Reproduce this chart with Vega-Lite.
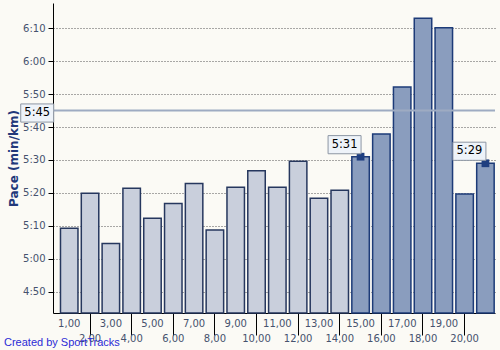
{
  "$schema": "https://vega.github.io/schema/vega-lite/v6.json",
  "width": 442,
  "height": 310,
  "autosize": {"type": "none"},
  "padding": {"left": 53, "top": 3, "right": 5, "bottom": 37},
  "background": "#fbfaf5",
  "config": {
    "view": {"stroke": null},
    "axis": {"labelFont": "DejaVu Sans", "labelFontSize": 10, "labelColor": "#46526e", "domainColor": "#000000", "tickColor": "#000000"}
  },
  "title": {
    "text": "Created by SportTracks",
    "orient": "bottom",
    "anchor": "start",
    "frame": "group",
    "dx": -49,
    "offset": -7,
    "font": "Liberation Sans",
    "fontSize": 11,
    "fontWeight": "normal",
    "color": "#2b2bd6"
  },
  "datasets": {
    "laps": [
      {"km": 1, "pace": 309.3, "group": "light", "label": null},
      {"km": 2, "pace": 319.9, "group": "light", "label": null},
      {"km": 3, "pace": 304.7, "group": "light", "label": null},
      {"km": 4, "pace": 321.4, "group": "light", "label": null},
      {"km": 5, "pace": 312.3, "group": "light", "label": null},
      {"km": 6, "pace": 316.8, "group": "light", "label": null},
      {"km": 7, "pace": 322.9, "group": "light", "label": null},
      {"km": 8, "pace": 308.8, "group": "light", "label": null},
      {"km": 9, "pace": 321.7, "group": "light", "label": null},
      {"km": 10, "pace": 326.7, "group": "light", "label": null},
      {"km": 11, "pace": 321.7, "group": "light", "label": null},
      {"km": 12, "pace": 329.6, "group": "light", "label": null},
      {"km": 13, "pace": 318.4, "group": "light", "label": null},
      {"km": 14, "pace": 320.8, "group": "light", "label": null},
      {"km": 15, "pace": 331, "group": "dark", "label": "5:31"},
      {"km": 16, "pace": 337.9, "group": "dark", "label": null},
      {"km": 17, "pace": 352.1, "group": "dark", "label": null},
      {"km": 18, "pace": 373, "group": "dark", "label": null},
      {"km": 19, "pace": 370.1, "group": "dark", "label": null},
      {"km": 20, "pace": 319.7, "group": "dark", "label": null},
      {"km": 21, "pace": 329, "group": "dark", "label": "5:29"}
    ],
    "avg": [{"pace": 345, "label": "5:45", "km": 1}]
  },
  "layer": [
    {
      "data": {"name": "laps"},
      "mark": {"type": "bar", "strokeWidth": 1.5},
      "encoding": {
        "x": {
          "field": "km",
          "type": "ordinal",
          "sort": "ascending",
          "scale": {"paddingInner": 0.16, "paddingOuter": 0.2, "align": 0.9},
          "axis": {
            "title": null,
            "labelAngle": 0,
            "labelOverlap": false,
            "labelFlush": false,
            "labelExpr": "datum.value == 21 ? '' : datum.value + ',00'",
            "ticks": true,
            "tickWidth": 1,
            "tickOpacity": 1,
            "tickSize": {"condition": {"test": "datum.value % 2 == 0", "value": 22}, "value": 0},
            "labelPadding": {"condition": {"test": "datum.value % 2 == 0", "value": -1.5}, "value": 5}
          }
        },
        "y": {
          "field": "pace",
          "type": "quantitative",
          "scale": {"domain": [283.6, 377.6], "zero": false, "nice": false},
          "axis": {
            "values": [290, 300, 310, 320, 330, 340, 350, 360, 370],
            "tickCount": 50,
            "labelExpr": "floor(datum.value / 60) + ':' + (datum.value % 60 < 10 ? '0' : '') + (datum.value % 60)",
            "labelOverlap": false,
            "grid": true,
            "gridDash": [1, 2],
            "gridColor": "#555555",
            "gridWidth": 1,
            "tickSize": 5,
            "labelPadding": 3,
            "title": "Pace (min/km)",
            "titleFont": "DejaVu Sans",
            "titleFontSize": 12,
            "titleFontWeight": "bold",
            "titleColor": "#22387a",
            "titlePadding": 2
          }
        },
        "y2": {"datum": 283.6},
        "fill": {"field": "group", "type": "nominal", "scale": {"domain": ["light", "dark"], "range": ["#c9cfdc", "#8a9dbe"]}, "legend": null},
        "stroke": {"field": "group", "type": "nominal", "scale": {"domain": ["light", "dark"], "range": ["#26375e", "#1d3b78"]}, "legend": null}
      }
    },
    {
      "data": {"name": "avg"},
      "mark": {"type": "rule", "color": "#9eabc2", "strokeWidth": 2},
      "encoding": {"y": {"field": "pace", "type": "quantitative"}}
    },
    {
      "data": {"name": "laps"},
      "transform": [{"filter": "datum.label != null"}],
      "mark": {"type": "point", "shape": "square", "size": 60, "filled": true, "opacity": 1, "color": "#1f3f80"},
      "encoding": {
        "x": {"field": "km", "type": "ordinal"},
        "y": {"field": "pace", "type": "quantitative"}
      }
    },
    {
      "data": {"name": "laps"},
      "transform": [{"filter": "datum.label != null"}],
      "mark": {"type": "point", "shape": "M-1,-0.55H1V0.55H-1Z", "size": 1089, "filled": true, "opacity": 1, "fill": "#eef3f9", "stroke": "#8d96a3", "strokeWidth": 1, "xOffset": -16, "yOffset": -12},
      "encoding": {
        "x": {"field": "km", "type": "ordinal"},
        "y": {"field": "pace", "type": "quantitative"}
      }
    },
    {
      "data": {"name": "laps"},
      "transform": [{"filter": "datum.label != null"}],
      "mark": {"type": "text", "font": "DejaVu Sans", "fontSize": 11.5, "color": "#000000", "align": "center", "baseline": "middle", "xOffset": -16, "yOffset": -12},
      "encoding": {
        "x": {"field": "km", "type": "ordinal"},
        "y": {"field": "pace", "type": "quantitative"},
        "text": {"field": "label"}
      }
    },
    {
      "data": {"name": "avg"},
      "mark": {"type": "point", "shape": "M-1,-0.55H1V0.55H-1Z", "size": 1089, "filled": true, "opacity": 1, "fill": "#eef3f9", "stroke": "#8d96a3", "strokeWidth": 1, "xOffset": -32, "yOffset": 2.5},
      "encoding": {
        "x": {"field": "km", "type": "ordinal"},
        "y": {"field": "pace", "type": "quantitative"}
      }
    },
    {
      "data": {"name": "avg"},
      "mark": {"type": "text", "font": "DejaVu Sans", "fontSize": 11.5, "color": "#000000", "align": "center", "baseline": "middle", "xOffset": -32, "yOffset": 2.5},
      "encoding": {
        "x": {"field": "km", "type": "ordinal"},
        "y": {"field": "pace", "type": "quantitative"},
        "text": {"field": "label"}
      }
    }
  ]
}
